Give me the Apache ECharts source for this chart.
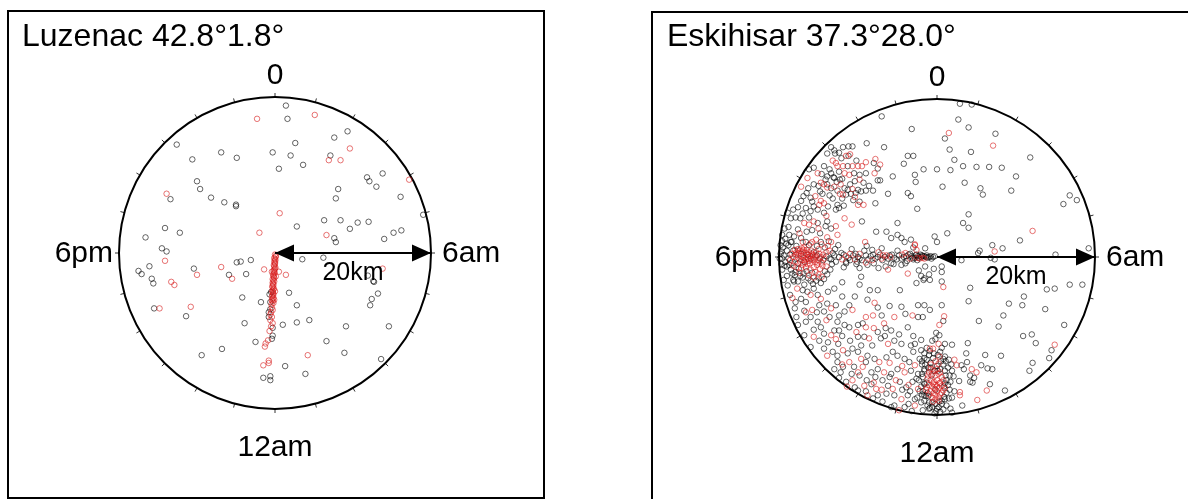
<!DOCTYPE html>
<html><head><meta charset="utf-8">
<script src="https://cdn.jsdelivr.net/npm/echarts@6/dist/echarts.min.js"></script>
<style>html,body{margin:0;padding:0;background:#fff}#c{width:1188px;height:499px}</style>
</head><body><div id="c"></div>
<script>
// ---------- texts ----------
const panelTitles = ['Luzenac 42.8°1.8°', 'Eskihisar 37.3°28.0°'];
const dirLabels = ['0', '6am', '12am', '6pm'];
const scaleLabel = '20km';
const radiusKm = 20;
const hoursPerDay = 24;

// ---------- data: epicentre offsets in km [east, north] ----------
const luzBlack = [
[1.4,18.9],[1.6,17.2],[-12.6,13.9],[-6.9,12.9],[-4.9,12.2],[-0.3,12.9],[2.0,12.5],[2.6,14.1],[0.5,10.8],[3.6,11.3],
[7.6,14.8],[9.3,15.6],[7.1,12.5],[-10.6,12.0],[-10.0,9.2],[-9.6,8.2],[-8.2,7.1],[-6.5,6.5],[-5.0,6.2],[-5.0,6.0],
[-13.4,6.9],[11.8,9.7],[12.1,9.2],[13.0,8.5],[13.8,10.2],[8.1,8.2],[7.8,7.0],[16.1,7.2],[2.8,3.4],[6.3,4.2],
[8.4,4.2],[9.6,3.1],[10.6,3.9],[12.0,4.0],[7.6,1.9],[7.8,1.4],[14.0,1.8],[15.2,2.6],[16.2,2.9],[-14.1,3.2],
[-12.2,2.6],[-16.6,2.0],[-14.5,0.6],[-13.9,0.2],[-16.1,-1.7],[-17.5,-2.3],[-17.1,-2.7],[-15.8,-3.3],[-15.6,-3.9],[-10.4,-2.0],
[-4.9,-1.2],[-4.4,-1.1],[-3.1,-0.9],[-5.9,-2.8],[-3.7,-2.7],[3.5,-0.8],[6.2,-0.6],[12.7,-3.7],[13.2,-5.2],[12.4,-5.9],
[12.2,-6.7],[1.8,-5.1],[2.8,-6.7],[-4.2,-5.7],[-1.8,-6.3],[-3.9,-9.0],[1.0,-9.2],[2.8,-8.9],[4.4,-8.6],[9.1,-9.4],
[14.6,-9.4],[-11.4,-8.1],[-15.5,-7.1],[-9.4,-13.1],[-6.8,-12.3],[-2.5,-11.4],[6.6,-11.3],[8.9,-12.8],[13.6,-13.6],[1.3,-14.5],
[3.9,-15.5],[-1.5,-16.0],[-0.6,-15.8],[-0.6,-16.3],[19.0,4.9],[11.9,-2.9],[12.6,-3.6],
[-0.7,-5.3],[-0.6,-6.3],[-0.8,-7.6],[-0.8,-8.2],[-0.3,-9.6],[-0.3,-10.6],[-0.4,-11.0],[-0.5,-5.0],[-0.6,-7.2]
];
const luzRed = [
[-2.3,17.2],[5.1,17.7],[9.6,13.4],[6.9,11.9],[8.4,11.9],[17.2,9.4],[-13.9,7.6],[0.6,5.1],[-2.0,2.6],[6.6,2.3],
[-14.1,-1.0],[-10.0,-2.8],[-6.9,-1.8],[-5.5,-3.3],[-13.3,-3.7],[-12.9,-4.1],[-10.8,-6.9],[-14.8,-7.1],[-1.4,-2.1],[0.5,-2.4],
[1.4,-2.8],[13.8,-2.0],[4.2,-13.1],[-1.3,-12.0],[-0.8,-13.8],[-0.8,-14.1],[-1.5,-14.4],
[0.0,-0.2],[0.1,-0.5],[0.0,-0.8],[-0.1,-1.1],[0.0,-1.4],[-0.1,-1.7],[0.0,-2.0],[-0.2,-2.3],[-0.1,-2.6],[-0.2,-2.9],
[-0.1,-3.2],[-0.2,-3.5],[-0.3,-3.8],[-0.2,-4.1],[-0.3,-4.4],[-0.2,-4.7],[-0.3,-5.0],[-0.2,-5.3],[-0.4,-5.6],[-0.3,-5.9],
[-0.3,-6.2],[-0.4,-7.0],[-0.5,-7.6],[-0.4,-8.2],[-0.6,-8.6],[-0.3,-9.0],[-0.5,-9.4],[-0.7,-10.0],[-0.9,-11.2],[-1.2,-11.6],
[0.1,-0.35],[-0.1,-0.65],[0.05,-0.95],[0.0,-1.25],[-0.15,-1.55],[0.05,-1.85],[-0.1,-2.15],[-0.05,-2.45],[-0.25,-2.75],[-0.15,-3.05],
[-0.3,-3.35],[-0.1,-3.65],[-0.25,-3.95],[-0.35,-4.25],[-0.15,-4.55],[-0.35,-4.85],[-0.25,-5.15],[-0.3,-5.45],[-0.2,-5.75],[-0.4,-6.05],
[-0.2,-6.4],[-0.45,-6.6],[-0.3,-7.3],[-0.6,-7.9],[-0.1,-6.0],[0.0,-4.9],[0.1,-3.0],[-0.4,-2.4]
];
const eskBlack = [
// upper right
[2.9,19.4],[4.4,19.3],[2.7,17.4],[4.0,16.4],[1.0,15.0],[7.4,15.6],[1.6,13.6],[4.3,13.3],[2.2,12.3],[1.7,11.0],
[3.3,11.5],[5.0,11.4],[6.6,11.4],[8.2,11.3],[11.8,12.6],[10.0,10.2],[0.7,8.9],[3.5,9.4],[5.5,8.7],[5.8,7.9],
[9.4,8.4],[16.8,7.8],[17.7,7.2],[16.0,6.7],[4.0,5.4],[3.3,4.3],[4.0,3.7],[1.3,3.0],[10.5,2.1],[7.0,1.5],
[8.3,1.1],[5.4,0.8],[5.2,0.5],[19.2,1.1],[15.0,0.3],[0.0,11.1],[-1.7,11.1],
// lower right
[3.1,-0.4],[6.8,-0.1],[7.3,-0.3],[0.6,-1.2],[0.6,-1.9],[0.6,-3.1],[4.2,-3.9],[4.0,-5.6],[0.6,-6.1],[13.9,-4.1],
[14.9,-4.0],[16.8,-3.5],[18.4,-3.5],[11.0,-5.0],[9.1,-5.9],[10.8,-6.1],[13.7,-6.6],[8.4,-7.4],[5.3,-8.1],[7.8,-8.8],
[16.1,-8.6],[0.8,-8.1],[10.9,-10.0],[12.0,-9.8],[12.5,-10.9],[14.5,-11.8],[14.2,-12.8],[12.1,-13.4],[11.7,-14.4],[1.9,-11.1],
[3.9,-10.9],[3.7,-12.2],[6.1,-12.4],[8.1,-12.5],[5.6,-13.7],[6.4,-14.1],[7.0,-14.2],[3.1,-13.7],[3.8,-13.3],[3.4,-14.2],
[4.2,-15.0],[4.7,-15.3],[4.2,-15.8],[4.5,-15.9],[2.8,-15.7],[6.7,-16.1],[8.6,-16.9],[1.9,-17.8],[3.2,-18.8],[1.7,-19.2],[1.9,-19.7],
// upper left
[-7.0,17.8],[-3.2,16.2],[-8.9,14.4],[-6.7,13.9],[-13.4,13.9],[-11.9,13.9],[-11.2,14.0],[-10.7,14.0],[-13.9,13.1],[-12.9,13.1],
[-12.4,13.2],[-11.2,12.8],[-3.7,12.8],[-3.0,12.8],[-4.2,11.8],[-8.0,11.9],[-14.3,11.5],[-13.6,11.1],[-13.4,10.6],[-13.9,10.2],
[-16.2,11.1],[-15.6,11.3],[-11.3,11.5],[-12.4,10.8],[-10.5,10.6],[-9.8,10.4],[-9.3,9.4],[-7.5,11.2],[-5.6,10.2],[-2.8,10.4],
[-2.7,9.5],[-7.5,9.7],[-7.2,9.7],[-14.1,9.8],[-13.9,9.2],[-13.4,8.7],[-12.7,9.5],[-11.7,8.7],[-11.3,8.5],[-10.0,8.5],
[-12.6,8.4],[-11.5,7.9],[-10.9,8.0],[-10.3,8.1],[-9.6,8.3],[-9.0,8.4],[-8.1,8.4],[-16.5,8.1],[-16.0,7.5],[-16.9,7.7],
[-17.2,7.1],[-16.3,8.7],[-15.6,9.2],[-15.6,6.4],[-15.1,6.0],[-16.0,5.8],[-16.6,6.2],[-13.2,7.4],[-12.6,6.6],[-12.4,6.2],
[-12.8,6.0],[-9.8,7.0],[-6.2,8.0],[-3.7,8.1],[-3.3,7.7],[-7.8,6.8],[-2.5,6.1],[-18.9,5.6],[-18.5,4.9],[-17.9,5.0],
[-17.3,4.9],[-15.1,4.3],[-14.3,5.6],[-13.9,4.5],[-14.1,3.9],[-13.4,3.6],[-9.5,4.5],[-7.7,3.2],[-6.4,3.2],[-5.8,2.4],
[-5.0,2.8],[-4.5,2.4],[-4.1,1.9],[-3.3,2.2],[-5.0,4.3],[-19.6,2.8],[-18.7,2.8],[-18.1,2.6],[-17.2,2.4],[-16.6,1.9],
[-14.7,1.9],[-0.3,2.6],[0.0,1.9],[-13.0,10.0],[-12.0,9.9],[-14.8,8.3],
[-14.6,10.5],[-13.1,10.1],[-12.3,9.8],[-11.0,9.2],[-10.4,9.6],[-15.0,9.0],[-14.5,8.0],[-13.6,7.8],[-12.0,7.4],[-10.6,7.2],
[-15.8,7.0],[-17.6,6.3],[-18.2,6.0],[-17.0,5.5],[-16.2,5.0],[-18.8,3.8],[-19.3,3.6],[-17.6,3.5],[-16.5,3.2],[-15.8,3.4],
[-14.8,3.0],[-13.0,13.5],[-12.1,12.5],[-10.2,12.2],[-9.0,10.6],[-8.6,9.0],[-11.8,6.5],[-13.8,6.4],[-19.8,1.5],[-18.4,1.9],
// 6pm cluster
[-19.8,0.4],[-19.6,-0.2],[-19.4,0.2],[-19.2,-0.6],[-19.0,0.8],[-18.8,-0.2],[-18.6,0.3],[-18.4,-0.8],[-18.2,0.8],[-17.8,-0.2],
[-17.6,-0.8],[-17.2,0.4],[-16.8,-0.6],[-16.4,0.3],[-16.0,-0.2],[-15.6,0.6],[-15.2,0.2],[-14.8,-0.2],[-14.4,-0.4],[-14.0,0.1],
[-13.6,-0.2],[-19.0,-1.2],[-18.5,-1.6],[-17.5,-1.5],[-16.5,-1.8],[-15.8,-2.0],[-19.5,1.2],[-18.8,1.5],[-17.8,1.4],[-16.2,1.5],
[-15.2,1.4],[-14.2,1.2],[-13.2,0.5],[-19.7,-0.9],[-18.0,-2.3],[-17.0,-2.6],[-16.0,-3.0],[-15.0,-2.6],[-14.2,-1.8],
[-19.9,-0.2],[-19.7,0.7],[-19.3,-1.1],[-19.1,1.7],[-18.7,-1.0],[-18.5,1.9],[-18.3,-2.1],[-17.9,-1.9],[-17.3,-2.4],[-16.9,-2.1],
[-16.3,-2.7],[-15.7,-3.4],[-15.3,-3.0],[-14.7,-3.3],[-14.3,-2.8],[-13.9,-2.2],[-13.5,-1.6],[-13.3,-0.9],[-12.9,1.0],[-12.5,1.5],
[-13.7,2.0],[-19.6,2.0],[-19.2,2.3],[-18.2,-2.9],[-17.6,-3.1],[-16.8,-3.5],[-19.0,-2.4],[-19.6,-1.6],
// horizontal line to centre
[-13.0,0.2],[-12.4,0.0],[-11.8,0.3],[-11.2,-0.1],[-10.6,0.2],[-10.0,0.0],[-9.5,-0.4],[-9.0,0.2],[-8.4,0.1],[-7.8,-0.2],
[-7.2,0.3],[-6.6,0.0],[-6.0,0.2],[-5.4,-0.1],[-4.8,0.2],[-4.2,0.0],[-3.6,0.3],[-3.2,0.1],[-2.8,-0.1],[-2.4,0.1],
[-2.0,0.0],[-1.6,0.1],[-1.2,-0.1],[-0.8,0.1],[-2.6,0.3],[-1.9,0.2],[-1.4,0.0],[-0.5,0.0],[-3.0,-0.3],[-12.8,-0.6],
[-11.5,-0.8],[-10.2,-0.9],[-8.8,-1.0],[-8.0,-0.8],[-9.2,0.8],[-8.2,0.9],[-7.0,1.1],[-5.0,0.8],[-4.0,-0.8],[-3.0,1.2],
[-1.5,1.1],[-1.5,-1.2],[-2.0,-2.4],[-1.7,-2.9],[-1.0,-2.2],[-0.4,-1.5],
[-13.4,-0.3],[-12.1,0.5],[-11.0,-0.4],[-10.3,0.4],[-9.8,-0.2],[-8.7,-0.3],[-8.1,0.3],[-7.5,0.0],[-6.9,-0.4],[-6.2,-0.2],
[-5.7,0.3],[-5.1,-0.3],[-4.5,-0.2],[-3.9,0.1],[-3.4,0.4],[-3.1,-0.1],[-2.7,0.2],[-2.3,-0.1],[-2.1,0.3],[-1.8,0.1],
[-1.3,0.2],[-1.0,0.0],[-0.7,-0.2],[-0.3,0.1],[-2.5,-0.4],[-3.8,-0.5],[-5.5,-0.9],[-6.5,-1.2],[-7.4,-1.4],[-8.9,1.4],
[-10.8,1.0],[-11.8,-1.3],[-2.3,-1.7],[-2.6,-3.3],
// lower left
[-19.4,-2.9],[-18.9,-3.6],[-18.1,-3.1],[-17.0,-4.2],[-16.4,-4.4],[-15.6,-4.0],[-15.1,-4.8],[-17.2,-5.3],[-16.6,-5.7],[-14.9,-6.1],
[-14.3,-6.9],[-13.9,-5.9],[-12.8,-6.1],[-12.4,-7.4],[-11.7,-6.9],[-11.1,-6.1],[-12.6,-8.2],[-15.1,-8.2],[-14.7,-8.9],[-16.6,-8.2],
[-16.8,-9.9],[-14.3,-9.7],[-13.0,-9.3],[-11.7,-8.6],[-11.1,-8.9],[-10.0,-8.6],[-9.4,-8.4],[-10.0,-10.1],[-9.2,-10.1],[-7.5,-9.5],
[-5.8,-9.3],[-4.5,-6.3],[-3.7,-8.9],[-2.4,-7.6],[-1.8,-7.6],[-1.6,-6.1],[-0.9,-6.7],[-3.3,-11.2],[-2.8,-11.0],[-4.5,-11.0],
[-5.4,-10.6],[-7.1,-10.3],[-14.3,-11.6],[-13.2,-12.0],[-12.6,-12.5],[-11.3,-12.2],[-10.7,-11.6],[-10.0,-12.0],[-8.8,-12.5],[-7.9,-12.9],
[-6.4,-12.7],[-5.6,-12.0],[-5.0,-12.5],[-4.1,-12.9],[-3.5,-13.3],[-2.2,-12.9],[-1.6,-12.2],[-12.6,-13.3],[-11.9,-13.9],[-10.5,-13.9],
[-9.0,-13.3],[-8.3,-14.6],[-7.5,-14.2],[-5.8,-14.8],[-5.0,-14.2],[-3.3,-14.4],[-2.4,-14.8],[-1.6,-14.2],[-11.5,-15.8],[-9.8,-15.0],
[-8.3,-16.1],[-6.9,-15.6],[-6.2,-16.3],[-4.7,-15.8],[-3.9,-16.5],[-3.1,-15.8],[-1.6,-16.1],[-10.0,-16.9],[-7.5,-17.5],[-6.4,-17.3],
[-5.4,-17.5],[-3.7,-17.5],[-2.8,-18.0],[-1.6,-17.5],[-5.4,-18.8],[-4.1,-19.0],[-2.0,-18.4],[-3.2,-19.5],[-1.8,-19.4],
[-11.5,-0.6],[-10.1,-0.6],[-9.8,-1.4],[-9.6,-2.5],[-9.8,-3.5],[-8.5,-4.2],[-7.5,-4.2],[-4.7,-4.2],[-7.5,-6.4],[-5.8,-0.8],
[-4.5,-1.0],[-2.4,-6.1],[-1.6,-2.7],[-0.9,-2.9],[-18.0,-6.5],[-17.8,-7.6],[-13.0,-4.0],[-12.0,-3.2],
[-18.6,-4.8],[-17.9,-5.7],[-16.0,-7.6],[-15.2,-7.0],[-13.6,-7.6],[-12.0,-10.0],[-11.0,-10.6],[-9.6,-11.2],[-8.2,-11.2],[-6.6,-10.0],
[-13.8,-10.8],[-12.5,-11.0],[-14.9,-10.6],[-16.0,-11.4],[-13.0,-14.2],[-12.2,-14.6],[-10.8,-14.8],[-8.9,-15.6],[-7.8,-15.2],[-6.0,-15.2],
[-4.4,-16.8],[-3.4,-17.0],[-2.2,-17.0],[-1.0,-19.2],[-9.0,-17.0],[-6.9,-18.3],[-5.8,-19.0],[-3.6,-18.6],[-12.4,-15.3],[-10.4,-16.5],
[-8.1,-17.9],[-6.5,-9.0],[-4.8,-9.8],[-3.0,-10.0],[-2.0,-10.5],[-4.0,-7.2],[-6.0,-6.2],[-7.0,-7.4],[-8.8,-5.4],[-10.4,-5.0],
[-12.0,-5.0],[-13.8,-4.4],[-16.8,-6.8],[-17.6,-8.6],[-15.6,-9.2],[-12.4,-9.3],[-2.6,-15.4],[-1.9,-13.6],[-3.0,-12.0],
// bottom cluster
[-1.6,-12.8],[-1.0,-12.4],[-0.4,-12.2],[0.4,-12.0],[1.0,-12.6],[1.5,-13.0],[-1.5,-13.6],[-0.8,-13.4],[0.0,-13.8],[0.8,-13.6],
[1.4,-14.0],[-1.6,-14.4],[1.0,-14.4],[1.6,-15.0],[-1.8,-15.2],[1.2,-15.6],[-1.6,-16.0],[1.4,-16.2],[-1.8,-17.0],[1.2,-17.2],
[-1.4,-17.6],[1.0,-18.0],[-1.0,-18.4],[0.6,-18.6],[-0.6,-19.0],[0.0,-19.2],[0.4,-19.6],[-0.3,-19.8],[-0.2,-18.6],[0.2,-19.0],
[-1.2,-18.8],[1.2,-18.8],[-0.8,-14.0],[0.4,-14.2],[-1.2,-17.2],[0.9,-17.7],[-0.2,-16.8],[0.5,-13.2],[-1.3,-11.5],[-0.6,-10.6],
[1.0,-11.0],[-2.0,-11.8],[-0.1,-9.6],[-0.7,-15.0],[0.9,-16.4],[-0.3,-14.4],
[-1.9,-13.2],[-1.3,-13.0],[-0.5,-12.8],[0.1,-12.4],[0.8,-12.9],[1.8,-13.6],[-1.9,-14.8],[1.9,-14.4],[-2.0,-16.4],[1.7,-15.8],
[-1.9,-17.4],[1.6,-16.8],[-1.6,-18.2],[1.5,-17.9],[-0.9,-19.1],[0.8,-19.3],[-0.1,-19.5],[0.6,-18.2],[-0.6,-18.4],[1.1,-13.2],
[-1.1,-14.0],[0.1,-14.4],[1.1,-15.0],[-1.3,-15.9],[1.0,-16.0],[-1.1,-17.6],[0.3,-18.3],[-2.3,-15.6],[2.1,-15.1],[-2.5,-17.8],
[2.2,-17.0],[-0.9,-11.9],[0.6,-11.5],[-0.2,-10.4],[0.3,-9.9]
];
const eskRed = [
[1.5,15.7],[7.1,14.1],[12.1,3.3],[7.3,0.7],
[0.8,-3.8],[0.9,-7.5],[0.3,-8.6],[14.9,-11.1],[2.2,-13.0],[2.5,-13.7],[4.4,-14.2],[5.0,-14.6],[6.3,-16.9],[2.9,-17.1],
[2.9,-17.5],[5.1,-18.1],
[-11.5,12.8],[-7.8,12.4],[-7.2,11.7],[-13.2,12.2],[-12.8,11.9],[-12.6,11.5],[-15.1,10.6],[-11.9,11.5],[-10.7,11.5],[-10.0,11.5],
[-9.5,11.5],[-11.7,10.6],[-11.1,10.4],[-9.8,9.8],[-7.9,10.6],[-14.7,9.4],[-14.3,9.2],[-13.9,8.8],[-12.2,9.2],[-10.7,8.6],
[-11.9,7.9],[-17.2,8.9],[-14.7,7.1],[-14.9,6.6],[-14.3,6.8],[-10.0,6.6],[-9.3,6.6],[-16.8,4.3],[-16.2,4.1],[-15.6,4.5],
[-12.8,3.9],[-11.7,4.9],[-10.8,4.1],[-2.8,1.5],[-9.1,1.9],[-16.0,1.7],[-15.3,2.2],[-13.9,2.5],[-13.4,1.9],[-12.6,2.8],
[-13.0,8.9],[-12.3,8.0],[-15.4,7.7],[-14.0,5.2],[-17.4,3.0],[-15.0,3.6],[-11.0,13.0],[-9.0,12.0],[-10.4,7.6],[-16.4,10.0],
[-17.8,0.6],[-17.4,0.8],[-17.0,0.7],[-16.6,0.5],[-16.2,0.6],[-15.8,0.4],[-17.6,0.2],[-17.2,0.1],[-16.8,0.2],[-16.4,0.0],
[-16.0,0.1],[-15.6,-0.1],[-17.4,-0.3],[-17.0,-0.4],[-16.6,-0.3],[-16.2,-0.5],[-15.8,-0.4],[-15.4,-0.6],[-15.0,-0.4],[-14.6,-0.7],
[-15.2,-1.0],[-15.6,-1.3],[-14.8,-1.5],[-17.0,-1.0],[-16.4,-0.9],[-18.2,0.0],[-18.0,-0.6],[-17.6,1.0],[-14.4,0.3],[-14.0,0.6],
[-13.6,0.8],[-15.0,1.0],[-16.8,1.2],[-16.9,-0.1],[-16.3,0.3],[-15.4,0.2],
[-18.4,0.4],[-18.0,0.9],[-17.9,0.3],[-17.5,0.5],[-17.3,-0.6],[-17.1,1.1],[-16.9,0.9],[-16.7,-0.7],[-16.5,0.9],[-16.3,-0.2],
[-16.1,-0.8],[-15.9,0.8],[-15.7,0.2],[-15.5,-0.3],[-15.3,0.6],[-15.1,-0.7],[-14.9,0.4],[-14.7,0.0],[-14.5,-1.1],[-14.3,-0.2],
[-18.6,-0.4],[-18.2,-1.1],[-17.8,-1.3],[-17.2,-1.4],[-16.6,-1.3],[-16.0,-1.6],[-15.4,-1.9],[-15.0,-2.2],[-14.6,-2.5],[-15.6,-2.6],
[-16.2,-2.3],[-17.4,-2.0],[-14.0,-1.2],[-13.8,1.4],[-14.6,1.6],[-15.8,1.9],[-17.0,1.9],
[-12.0,-0.3],[-11.0,0.4],[-10.4,-0.3],[-9.8,0.4],[-7.0,-0.2],[-6.8,0.2],[-6.4,0.2],[-4.4,0.3],[-3.4,-0.2],[-2.2,-0.2],
[-1.8,-0.1],[-2.6,0.9],[-2.8,1.6],[-6.2,-1.6],[-9.0,-0.7],[-5.9,0.0],[-7.4,0.6],[-2.5,-0.1],[-1.6,-0.2],[-8.2,-0.4],
[-11.5,0.1],[-4.0,0.5],
[-17.7,-4.0],[-16.0,-4.8],[-14.7,-5.3],[-15.8,-6.7],[-13.4,-6.5],[-10.7,-6.7],[-15.6,-10.1],[-13.4,-9.9],[-9.0,-8.9],[-8.6,-10.3],
[-6.7,-8.4],[-5.4,-7.6],[-3.1,-7.4],[-6.2,-11.0],[-13.9,-12.5],[-11.9,-11.8],[-9.6,-12.9],[-7.3,-13.3],[-2.8,-13.7],[-0.9,-11.6],
[-11.1,-13.3],[-9.4,-13.9],[-6.7,-14.6],[-4.1,-14.6],[-10.7,-15.6],[-9.2,-16.3],[-7.7,-16.7],[-5.6,-16.7],[-2.4,-16.7],[-8.8,-17.5],
[-4.5,-18.0],[-2.8,-18.8],[-4.8,-19.4],[-7.9,-5.8],[-3.7,-2.1],[-9.0,-7.6],[-8.1,-7.4],
[-18.3,-5.2],[-16.6,-7.0],[-14.0,-8.0],[-12.0,-13.6],[-10.0,-14.6],[-8.0,-15.9],[-5.2,-15.6],[-3.6,-16.2],[-7.0,-16.8],[-11.4,-16.4],
[-6.0,-13.4],[-4.4,-13.8],[-12.8,-10.4],[-10.2,-9.5],[-8.0,-9.0],
[-1.0,-14.6],[-0.6,-14.8],[-0.2,-15.0],[0.2,-14.8],[0.6,-15.2],[-1.2,-15.4],[-0.8,-15.6],[-0.4,-15.8],[0.0,-15.6],[0.4,-15.9],
[-1.0,-16.2],[-0.6,-16.4],[-0.2,-16.2],[0.2,-16.6],[0.6,-16.3],[-0.8,-17.0],[-0.4,-17.2],[0.0,-17.0],[0.4,-17.4],[-0.6,-17.8],
[-0.2,-18.0],[0.2,-17.8],[-1.4,-16.8],[0.8,-16.9],[-0.2,-13.2],[0.3,-12.6],[-0.5,-11.6],[0.2,-11.0],
[-0.8,-14.2],[-0.4,-14.4],[0.0,-14.2],[0.4,-14.6],[-1.1,-15.0],[0.8,-15.6],[-1.3,-16.5],[0.3,-16.0],[-0.5,-16.0],[0.0,-16.4],
[-0.3,-16.7],[-1.0,-17.4],[0.6,-17.2],[-0.2,-17.5],[0.2,-18.2],[-0.5,-18.3],[1.0,-16.6],[-0.8,-13.6],[0.2,-13.5]
];
const panelData = [[luzBlack, luzRed], [eskBlack, eskRed]];

// ---------- layout ----------
const FONT = '"Liberation Sans", Arial, Helvetica, sans-serif';
const panels = [
  {cx: 275, cy: 253, r: 156, box: [8, 11, 536, 487], titleX: 22},
  {cx: 937, cy: 257, r: 158, box: [652, 12, 540, 495], titleX: 667}
];
const colBlack = 'rgba(0,0,0,0.6)';
const colRed = 'rgba(215,25,25,0.6)';
const headLen = 19, headWidth = 17;

const chart = echarts.init(document.getElementById('c'), null, {renderer: 'canvas'});

const graphic = [];
panels.forEach((p, i) => {
  graphic.push({type: 'rect', silent: true, z: 0,
    shape: {x: p.box[0], y: p.box[1], width: p.box[2], height: p.box[3]},
    style: {fill: 'none', stroke: '#000', lineWidth: 2}});
  graphic.push({type: 'text', silent: true, x: p.titleX, y: 37,
    style: {text: panelTitles[i], font: '32px ' + FONT, fill: '#000', textAlign: 'left', textVerticalAlign: 'middle'}});
  const lab = (t, x, y, align) => ({type: 'text', silent: true, x, y,
    style: {text: t, font: '30px ' + FONT, fill: '#000', textAlign: align, textVerticalAlign: 'middle'}});
  graphic.push(lab(dirLabels[0], p.cx, p.cy - p.r - 21, 'center'));
  graphic.push(lab(dirLabels[1], p.cx + p.r + 11, p.cy + 1, 'left'));
  graphic.push(lab(dirLabels[2], p.cx, p.cy + p.r + 39, 'center'));
  graphic.push(lab(dirLabels[3], p.cx - p.r - 6, p.cy + 1, 'right'));
});

const series = [];
panels.forEach((p, i) => {
  const [blk, red] = panelData[i];
  const common = {type: 'scatter', xAxisIndex: i, yAxisIndex: i, symbol: 'circle', symbolSize: 5.5,
    silent: true, animation: false, z: 3};
  series.push(Object.assign({}, common, {data: blk,
    itemStyle: {color: 'rgba(0,0,0,0)', borderColor: colBlack, borderWidth: 1, opacity: 1}}));
  series.push(Object.assign({}, common, {data: red, z: 4,
    itemStyle: {color: 'rgba(0,0,0,0)', borderColor: colRed, borderWidth: 1, opacity: 1}}));
  // scale arrow: shaft + label
  series.push({type: 'scatter', xAxisIndex: i, yAxisIndex: i, data: [], silent: true, animation: false, z: 6,
    markLine: {silent: true, animation: false, symbol: ['none', 'none'],
      lineStyle: {color: '#000', width: 2, type: 'solid', opacity: 1},
      label: {show: true, formatter: scaleLabel, position: 'insideMiddleBottom', distance: 8,
        fontSize: 25, fontFamily: FONT, color: '#000'},
      data: [[{coord: [0, 0]}, {coord: [radiusKm, 0]}]]}});
  // arrow heads
  series.push({type: 'scatter', xAxisIndex: i, yAxisIndex: i, silent: true, animation: false, z: 7,
    symbol: 'triangle', symbolSize: [headWidth, headLen],
    itemStyle: {color: '#000', opacity: 1},
    data: [
      {value: [0, 0], symbolRotate: 90, symbolOffset: [headLen / 2, 0]},
      {value: [radiusKm, 0], symbolRotate: -90, symbolOffset: [-headLen / 2, 0]}
    ]});
});

chart.setOption({
  animation: false,
  backgroundColor: '#fff',
  polar: panels.map(p => ({center: [p.cx, p.cy], radius: p.r})),
  angleAxis: panels.map((p, i) => ({polarIndex: i, type: 'value', min: 0, max: hoursPerDay, interval: 1,
    startAngle: 90, clockwise: true,
    axisLine: {show: true, lineStyle: {color: '#000', width: 2}},
    axisTick: {show: true, length: 4, lineStyle: {color: '#333', width: 1}},
    axisLabel: {show: false}, splitLine: {show: false}, splitArea: {show: false}})),
  radiusAxis: panels.map((p, i) => ({polarIndex: i, type: 'value', min: 0, max: radiusKm,
    axisLine: {show: false}, axisTick: {show: false}, axisLabel: {show: false}, splitLine: {show: false}})),
  grid: panels.map(p => ({left: p.cx - p.r, top: p.cy - p.r, width: 2 * p.r, height: 2 * p.r, containLabel: false})),
  xAxis: panels.map((p, i) => ({gridIndex: i, type: 'value', min: -radiusKm, max: radiusKm, show: false})),
  yAxis: panels.map((p, i) => ({gridIndex: i, type: 'value', min: -radiusKm, max: radiusKm, show: false})),
  graphic,
  series
});
</script>
</body></html>
